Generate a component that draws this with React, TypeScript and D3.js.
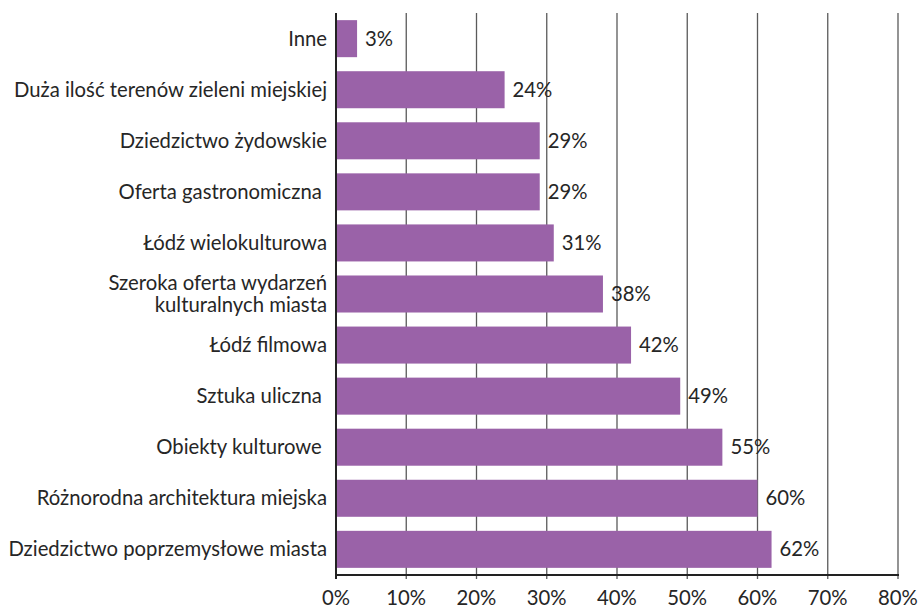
import React, { useEffect, useRef } from 'react';
import * as d3 from 'd3';

const categories = [
  'Inne',
  'Duża ilość terenów zieleni miejskiej',
  'Dziedzictwo żydowskie',
  'Oferta gastronomiczna ',
  'Łódź wielokulturowa',
  'Szeroka oferta wydarzeń\nkulturalnych miasta',
  'Łódź filmowa',
  'Sztuka uliczna ',
  'Obiekty kulturowe ',
  'Różnorodna architektura miejska',
  'Dziedzictwo poprzemysłowe miasta',
];
const values = [3, 24, 29, 29, 31, 38, 42, 49, 55, 60, 62];
const xTicks = [0, 10, 20, 30, 40, 50, 60, 70, 80];

const WIDTH = 920;
const HEIGHT = 608;
const margin = { top: 13, right: 22, bottom: 33, left: 336 };
const FONT = 'Lato, "Source Sans Pro", sans-serif';
const FS = '20.3px';

const App = () => {
  const svgRef = useRef<SVGSVGElement>(null);

  useEffect(() => {
    const svg = d3.select(svgRef.current);
    svg.selectAll('*').remove();

    const innerWidth = WIDTH - margin.left - margin.right;
    const innerHeight = HEIGHT - margin.top - margin.bottom;

    const g = svg.append('g').attr('transform', `translate(${margin.left},${margin.top})`);

    const x = d3.scaleLinear().domain([0, 80]).range([0, innerWidth]);
    const y = d3.scaleBand<number>()
      .domain(d3.range(categories.length))
      .range([0, innerHeight])
      .paddingInner(0.275)
      .paddingOuter(0.14);

    // siatka pionowa
    g.selectAll('.grid')
      .data(xTicks.filter(t => t > 0))
      .enter()
      .append('line')
      .attr('x1', d => x(d))
      .attr('x2', d => x(d))
      .attr('y1', 0)
      .attr('y2', innerHeight + 4)
      .attr('stroke', '#5a5a5a')
      .attr('stroke-width', 1.3);

    // słupki
    g.selectAll('.bar')
      .data(values)
      .enter()
      .append('rect')
      .attr('x', 0)
      .attr('y', (d, i) => y(i)!)
      .attr('width', d => x(d))
      .attr('height', y.bandwidth())
      .attr('fill', '#9a62a8');

    // etykiety wartości
    g.selectAll('.val')
      .data(values)
      .enter()
      .append('text')
      .attr('x', d => x(d) + 8)
      .attr('y', (d, i) => y(i)! + y.bandwidth() / 2)
      .attr('dy', '0.35em')
      .attr('fill', '#262626')
      .style('font-family', FONT)
      .style('font-size', FS)
      .text(d => `${d}%`);

    // etykiety kategorii
    categories.forEach((c, i) => {
      const lines = c.split('\n');
      const cy = y(i)! + y.bandwidth() / 2;
      const t = g.append('text')
        .attr('x', -9)
        .attr('text-anchor', 'end')
        .attr('fill', '#262626')
        .style('font-family', FONT)
        .style('font-size', FS)
        .style('white-space', 'pre');
      lines.forEach((l, j) => {
        t.append('tspan')
          .attr('x', -9)
          .attr('y', cy + (j - (lines.length - 1) / 2) * 22)
          .attr('dy', '0.35em')
          .text(l);
      });
    });

    // osie
    g.append('line')
      .attr('x1', 0).attr('x2', 0)
      .attr('y1', 0).attr('y2', innerHeight + 4)
      .attr('stroke', '#222').attr('stroke-width', 2);
    g.append('line')
      .attr('x1', -1).attr('x2', innerWidth + 1)
      .attr('y1', innerHeight).attr('y2', innerHeight)
      .attr('stroke', '#222').attr('stroke-width', 2);

    g.selectAll('.tick-label')
      .data(xTicks)
      .enter()
      .append('text')
      .attr('x', d => x(d))
      .attr('y', innerHeight + 23)
      .attr('dy', '0.35em')
      .attr('text-anchor', 'middle')
      .attr('fill', '#262626')
      .style('font-family', FONT)
      .style('font-size', FS)
      .text(d => `${d}%`);
  }, []);

  return (
    <svg ref={svgRef} width={WIDTH} height={HEIGHT}
      style={{ position: 'absolute', left: 0, top: 0, background: '#fff' }} />
  );
};

export default App;
